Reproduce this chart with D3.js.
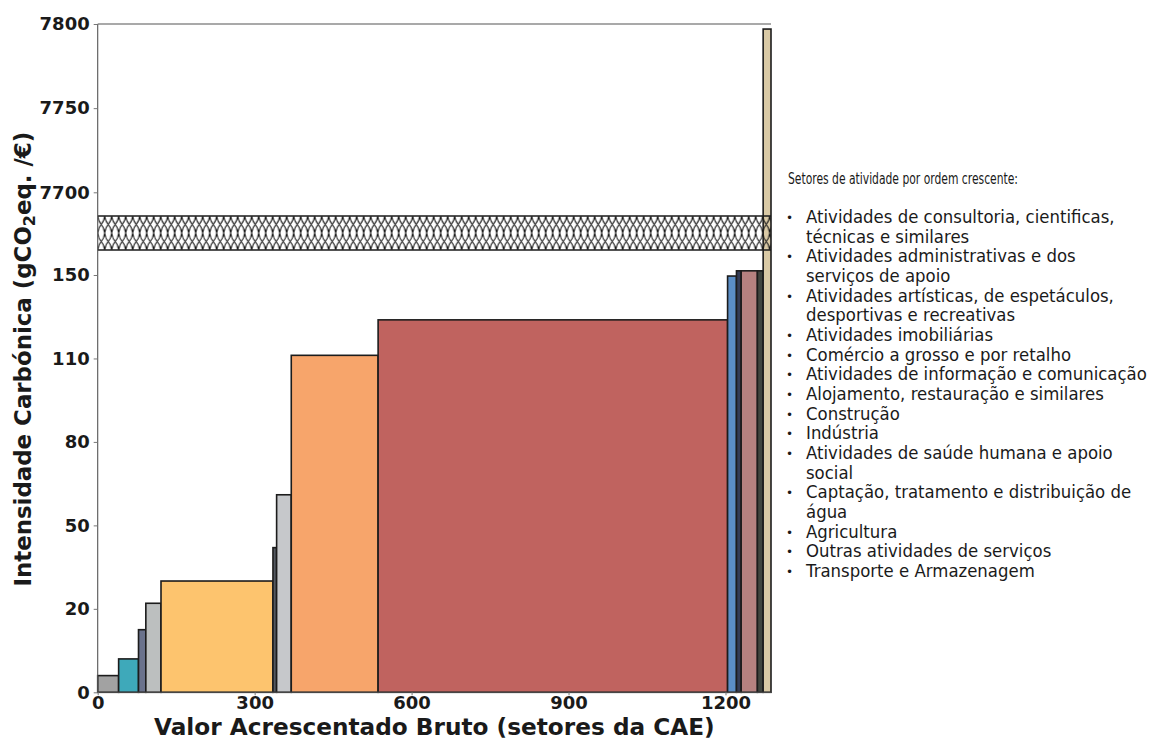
<!DOCTYPE html>
<html><head><meta charset="utf-8">
<script src="https://cdn.jsdelivr.net/npm/d3@7"></script>
<style>body{margin:0;background:#fff}</style>
</head><body><svg id="c" width="1149" height="743"></svg>
<script>
const sectors = [
  "Atividades de consultoria, cientificas,\ntécnicas e similares",
  "Atividades administrativas e dos\nserviços de apoio",
  "Atividades artísticas, de espetáculos,\ndesportivas e recreativas",
  "Atividades imobiliárias",
  "Comércio a grosso e por retalho",
  "Atividades de informação e comunicação",
  "Alojamento, restauração e similares",
  "Construção",
  "Indústria",
  "Atividades de saúde humana e apoio\nsocial",
  "Captação, tratamento e distribuição de\nágua",
  "Agricultura",
  "Outras atividades de serviços",
  "Transporte e Armazenagem"
];
const vab = [40, 38, 14, 29, 214, 7, 28, 166, 668, 17, 9, 31, 11, 15];
const intensity = [4, 8, 15, 22, 30, 42, 61, 111.5, 128.5, 149.5, 152, 152, 152, 7797];
const colors = ["#a2a2a2", "#3ea9ba", "#6a728c", "#bcbfbf", "#fdc46e", "#535860", "#c6c8cb",
                "#f7a56b", "#c0635f", "#5b8ec6", "#343c56", "#b58180", "#40453f", "#d9c9a5"];
const lowerTicks = [0, 20, 50, 80, 110, 150];
const upperTicks = [7700, 7750, 7800];
const xTicks = [0, 300, 600, 900, 1200];
const legendTitle = "Setores de atividade por ordem crescente:";
const xTitle = "Valor Acrescentado Bruto (setores da CAE)";

const svg = d3.select("#c");
const L = 97.7, R = 771, T = 24, B = 692.3;
const bandTop = 216, bandBot = 250;
const step = 83.46;

const total = d3.sum(vab);
const x = d3.scaleLinear().domain([0, total]).range([L, R]);
const yLow = d3.scaleLinear().domain(lowerTicks).range(lowerTicks.map((d, i) => B - i * step));
const yUp = d3.scaleLinear().domain([7700, 7800]).range([192.3, T]);

let acc = 0;
const bars = vab.map((w, i) => { const b = {x0: acc, x1: acc + w, v: intensity[i], c: colors[i]}; acc += w; return b; });

const defs = svg.append("defs");
defs.append("clipPath").attr("id", "clipUp").append("rect").attr("x", L - 2).attr("y", T - 2).attr("width", R - L + 4).attr("height", bandTop - T + 2);
defs.append("clipPath").attr("id", "clipLow").append("rect").attr("x", L - 2).attr("y", bandTop).attr("width", R - L + 4).attr("height", B - bandTop + 2);
const hh = bandBot - bandTop;
const pw = 7;
const pat = defs.append("pattern").attr("id", "hatch").attr("patternUnits", "userSpaceOnUse")
  .attr("x", L).attr("y", bandTop).attr("width", pw).attr("height", hh);
pat.append("path").attr("d", `M0,0 C${pw*0.15},${hh*0.3} ${pw*0.85},${hh*0.2} ${pw},${hh/2} C${pw*0.85},${hh*0.8} ${pw*0.15},${hh*0.7} 0,${hh}`)
  .attr("fill", "none").attr("stroke", "#1a1a1a").attr("stroke-width", 1.1);
pat.append("path").attr("d", `M${pw},0 C${pw*0.85},${hh*0.3} ${pw*0.15},${hh*0.2} 0,${hh/2} C${pw*0.15},${hh*0.8} ${pw*0.85},${hh*0.7} ${pw},${hh}`)
  .attr("fill", "none").attr("stroke", "#1a1a1a").attr("stroke-width", 1.1);

// lower panel bars
svg.append("g").attr("clip-path", "url(#clipLow)").selectAll("rect").data(bars).join("rect")
  .attr("x", d => x(d.x0)).attr("width", d => x(d.x1) - x(d.x0))
  .attr("y", d => Math.max(yLow(d.v), bandTop - 20)).attr("height", d => B - Math.max(yLow(d.v), bandTop - 20))
  .attr("fill", d => d.c).attr("stroke", "#1c1c1c").attr("stroke-width", 1.6);

// upper panel bars
svg.append("g").attr("clip-path", "url(#clipUp)").selectAll("rect").data(bars.filter(d => d.v > 7700 - 30)).join("rect")
  .attr("x", d => x(d.x0)).attr("width", d => x(d.x1) - x(d.x0))
  .attr("y", d => yUp(d.v)).attr("height", d => bandTop + 30 - yUp(d.v))
  .attr("fill", d => d.c).attr("stroke", "#1c1c1c").attr("stroke-width", 1.6);

// break band
svg.append("rect").attr("x", L).attr("y", bandTop).attr("width", R - L).attr("height", hh).attr("fill", "url(#hatch)");
svg.append("line").attr("x1", L).attr("x2", R).attr("y1", bandTop).attr("y2", bandTop).attr("stroke", "#1a1a1a").attr("stroke-width", 1.3);
svg.append("line").attr("x1", L).attr("x2", R).attr("y1", bandBot).attr("y2", bandBot).attr("stroke", "#1a1a1a").attr("stroke-width", 1.3);

// spines
const sp = svg.append("g").attr("stroke", "#555").attr("stroke-width", 1.1);
sp.append("line").attr("x1", L).attr("x2", L).attr("y1", T).attr("y2", B);
sp.append("line").attr("x1", L).attr("x2", R).attr("y1", T).attr("y2", T);
sp.append("line").attr("x1", L).attr("x2", R).attr("y1", B).attr("y2", B);

function styleAxis(g) {
  g.select(".domain").remove();
  g.selectAll(".tick line").attr("stroke", "#777");
  g.selectAll(".tick text").attr("font-family", "DejaVu Sans").attr("font-weight", "bold").attr("font-size", 18).attr("fill", "#1a1a1a");
}
svg.append("g").attr("transform", `translate(${L},0)`)
  .call(d3.axisLeft(yLow).tickValues(lowerTicks).tickFormat(d3.format("d")).tickSize(4).tickPadding(4)).call(styleAxis);
svg.append("g").attr("transform", `translate(${L},0)`)
  .call(d3.axisLeft(yUp).tickValues(upperTicks).tickFormat(d3.format("d")).tickSize(4).tickPadding(4)).call(styleAxis);
svg.append("g").attr("transform", `translate(0,${B})`)
  .call(d3.axisBottom(x).tickValues(xTicks).tickFormat(d3.format("d")).tickSize(3).tickPadding(1)).call(styleAxis);

// fit helper
function fitFont(sel, base, target) {
  sel.attr("font-size", base);
  const w = sel.node().getComputedTextLength();
  sel.attr("font-size", base * target / w);
}

// x title
const xt = svg.append("text").attr("x", (L + R) / 2).attr("y", 735).attr("text-anchor", "middle")
  .attr("font-family", "DejaVu Sans").attr("font-weight", "bold").attr("fill", "#1a1a1a").text(xTitle);
fitFont(xt, 22, 561);

// y title
const yt = svg.append("text").attr("transform", `translate(31,${(T + B) / 2 + 1}) rotate(-90)`).attr("text-anchor", "middle")
  .attr("font-family", "DejaVu Sans").attr("font-weight", "bold").attr("fill", "#1a1a1a");
yt.append("tspan").text("Intensidade Carbónica (gCO");
yt.append("tspan").attr("font-size", "0.7em").attr("dy", "0.25em").text("2");
yt.append("tspan").attr("dy", "-0.18em").text("eq. /€)");
fitFont(yt, 22, 455);

// legend
const lg = svg.append("g").attr("font-family", "DejaVu Sans").attr("fill", "#1a1a1a");
lg.append("text").attr("x", 788).attr("y", 184).attr("font-size", 15)
  .attr("textLength", 230).attr("lengthAdjust", "spacingAndGlyphs").text(legendTitle);

const ref = lg.append("text").attr("font-size", 17).text(sectors[5]);
const kx = 341 / ref.node().getComputedTextLength();
ref.remove();

let line = 0;
const y0 = 223, ls = 19.67;
sectors.forEach((s, i) => {
  const parts = s.split("\n");
  lg.append("text").attr("x", 786).attr("y", y0 + line * ls - 1).attr("font-size", 12).text("•");
  parts.forEach(p => {
    lg.append("text").attr("transform", `translate(806,${y0 + line * ls}) scale(${kx},1)`)
      .attr("font-size", 17).text(p);
    line++;
  });
});
</script>
</body></html>
